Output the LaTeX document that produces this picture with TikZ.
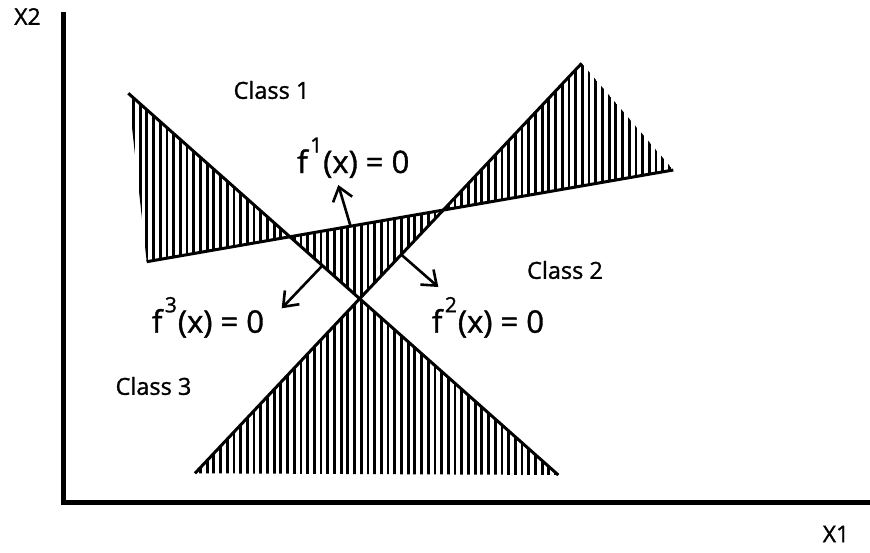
\documentclass[tikz,border=0pt]{standalone}
\usepackage{fontspec}
\setmainfont{Open Sans}[FakeBold=1.2]
\usetikzlibrary{arrows.meta}
\newcommand{\fsup}[1]{\kern2.5pt\raisebox{0.66em}{\fontsize{21}{21}\selectfont #1}\kern1pt}
\begin{document}
\begin{tikzpicture}[x=1pt,y=-1pt,
  axis/.style={line width=5pt,line join=miter},
  boundary/.style={line width=3pt},
  hatch/.style={line width=2.8pt},
  normal/.style={line width=2.6pt,-{Straight Barb[length=13pt,width=20pt]}},
  classlbl/.style={font=\fontsize{23.5}{28}\selectfont,inner sep=0pt},
  eqlbl/.style={font=\fontsize{31}{36}\selectfont,inner sep=0pt,anchor=base west},
  axlbl/.style={font=\fontsize{23}{28}\selectfont,inner sep=0pt}]
\useasboundingbox[fill=white] (0,0) rectangle (870,552);
% end points of the three decision lines
\coordinate (P1a) at (146.7,261.7);
\coordinate (P1b) at (673.3,170);
\coordinate (P2a) at (195,473.3);
\coordinate (P2b) at (581.7,63.3);
\coordinate (P3a) at (128.3,93.3);
\coordinate (P3b) at (558.3,475);
\coordinate (I13) at (intersection of P1a--P1b and P3a--P3b);
\coordinate (I12) at (intersection of P1a--P1b and P2a--P2b);
\coordinate (I23) at (intersection of P2a--P2b and P3a--P3b);
% hatched regions
\begin{scope}
\clip (P3a) -- (P1a) -- (I13) -- cycle
      (I13) -- (I12) -- (I23) -- cycle
      (I12) -- (P2b) -- (P1b) -- cycle
      (I23) -- (P2a) -- (P3b) -- cycle;
\foreach \x in {120,126.7,...,690} \draw[hatch] (\x,40) -- (\x,490);
\end{scope}
% decision lines
\draw[boundary] (P1a) -- (P1b);
\draw[boundary] (P2a) -- (P2b);
\draw[boundary] (P3a) -- (P3b);
% axes
\coordinate (Otop) at (63,12);
\coordinate (O) at (63,502.5);
\coordinate (Oright) at (870,502.5);
\draw[axis] (Otop) -- (O) -- (Oright);
% normal arrows
\coordinate (A1) at (350.7,226.7);
\coordinate (B1) at (338.3,185);
\coordinate (A2) at (401.7,255);
\coordinate (B2) at (438.3,287);
\coordinate (A3) at (322,266);
\coordinate (B3) at (281.7,308.3);
\draw[normal] (A1) -- (B1);
\draw[normal] (A2) -- (B2);
\draw[normal] (A3) -- (B3);
% labels
\node[classlbl] (c1) at (271.5,90) {Class 1};
\node[classlbl] (c2) at (565,270) {Class 2};
\node[classlbl] (c3) at (153.5,386) {Class 3};
\node[eqlbl] (f1) at (297,173) {f\fsup{1}(x) = 0};
\node[eqlbl] (f2) at (431.7,332.7) {f\fsup{2}(x) = 0};
\node[eqlbl] (f3) at (151.7,332.7) {f\fsup{3}(x) = 0};
\node[axlbl] (x2) at (27.5,16.5) {X2};
\node[axlbl] (x1) at (836,534) {X1};
\end{tikzpicture}
\end{document}
